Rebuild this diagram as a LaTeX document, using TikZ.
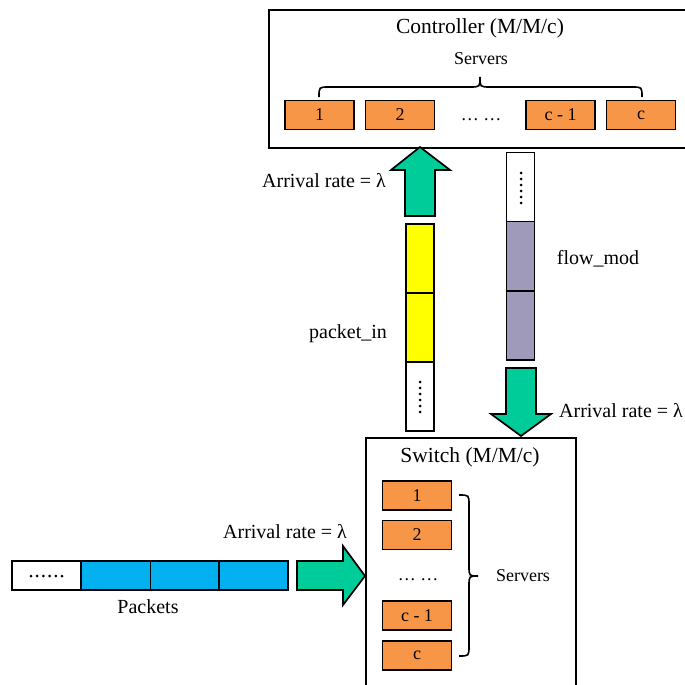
\documentclass[tikz,border=0pt]{standalone}
\usepackage{fontspec}
\setmainfont{Liberation Serif}
\definecolor{srv}{HTML}{F79646}
\definecolor{grn}{RGB}{0,204,153}
\definecolor{ylw}{RGB}{255,255,0}
\definecolor{pur}{RGB}{160,154,186}
\definecolor{blu}{RGB}{0,176,240}
\tikzset{
  frame/.style={draw, line width=1.8pt, inner sep=0pt, anchor=north west},
  srvbox/.style={draw, fill=srv, line width=1.8pt, minimum width=69pt, minimum height=29pt, inner sep=0pt, font=\fontsize{18}{18}\selectfont},
  cell/.style={draw, line width=1.7pt, inner sep=0pt},
  vcell/.style={cell, minimum width=28pt, minimum height=69pt},
  hcell/.style={cell, minimum width=69pt, minimum height=29pt},
  blockarrow/.style={draw, fill=grn, line width=1.7pt, line join=miter},
  lbl/.style={inner sep=0pt, font=\fontsize{20}{24}\selectfont, text height=14pt, text depth=4pt},
  ttl/.style={inner sep=0pt, font=\fontsize{21.5}{24}\selectfont, text height=15pt, text depth=4pt},
  small/.style={inner sep=0pt, font=\fontsize{18}{22}\selectfont, text height=13pt, text depth=3pt},
  brc/.style={line width=1.6pt},
  dot/.style={fill=black, draw=none}
}
\begin{document}
\begin{tikzpicture}[x=1pt,y=-1pt]
\useasboundingbox (0,0) rectangle (685,685);
\clip (0,0) rectangle (685,685);

% Controller
\node[frame, minimum width=440pt, minimum height=138pt] (ctrl) at (268,9) {};
\node[ttl] (ctrltitle) at (480,28) {Controller (M/M/c)};
\node[small] (ctrlsrv) at (481,59) {Servers};
\node[srvbox] (c1) at (319.5,115) {1};
\node[srvbox] (c2) at (400,115) {2};
\node[small] (cdots) at (481,115) {… …};
\node[srvbox] (cc1) at (560.5,115) {c - 1};
\node[srvbox] (cc) at (641,115) {c};
\draw[brc] (319,97) .. controls (319,87) .. (329,87) -- (470,87)
  .. controls (480,87) .. (480,77) .. controls (480,87) .. (490,87)
  -- (632,87) .. controls (642,87) .. (642,97);

% Switch
\node[frame, minimum width=210pt, minimum height=300pt] (sw) at (365,437) {};
\node[ttl] (swtitle) at (470,457) {Switch (M/M/c)};
\node[srvbox] (s1) at (417,495.5) {1};
\node[srvbox] (s2) at (417,535) {2};
\node[small] (sdots) at (418,575) {… …};
\node[srvbox] (sc1) at (417,615.5) {c - 1};
\node[srvbox] (sc) at (417,655.5) {c};
\draw[brc] (459,495) .. controls (469,495) .. (469,505) -- (469,566)
  .. controls (469,576) .. (478,576) .. controls (469,576) .. (469,586)
  -- (469,646) .. controls (469,656) .. (459,656);
\node[small] (swsrv) at (523,576) {Servers};

% packet_in column
\node[vcell, fill=ylw] (pin1) at (420,258.5) {};
\node[vcell, fill=ylw] (pin2) at (420,327.5) {};
\node[vcell, fill=white] (pin3) at (420,396.5) {};
\foreach \k in {0,...,5} \fill[dot] (420,382+6*\k) circle (1.5pt);
\node[lbl] (pinlbl) at (348,333) {packet\_in};

% flow_mod column
\node[vcell, fill=white] (fm3) at (520.5,187) {};
\node[vcell, fill=pur] (fm2) at (520.5,256) {};
\node[vcell, fill=pur] (fm1) at (520.5,325.5) {};
\foreach \k in {0,...,5} \fill[dot] (521,173+6*\k) circle (1.5pt);
\node[lbl] (fmlbl) at (598,259) {flow\_mod};

% arrows
\draw[blockarrow] (405,216) -- (405,170) -- (391,170) -- (420,147) -- (450,170) -- (435,170) -- (435,216) -- cycle;
\node[lbl] (uplbl) at (324,182) {Arrival rate = λ};
\draw[blockarrow] (506,368) -- (536,368) -- (536,414) -- (551,414) -- (521,436) -- (491,414) -- (506,414) -- cycle;
\node[lbl] (downlbl) at (621,412) {Arrival rate = λ};
\draw[blockarrow] (297,561) -- (343,561) -- (343,546) -- (365,576) -- (343,605) -- (343,590) -- (297,590) -- cycle;
\node[lbl] (inlbl) at (285,533) {Arrival rate = λ};

% packets
\node[hcell, fill=white] (p0) at (46.5,575.5) {};
\node[hcell, fill=blu] (p1) at (116,575.5) {};
\node[hcell, fill=blu] (p2) at (185,575.5) {};
\node[hcell, fill=blu] (p3) at (253.5,575.5) {};
\foreach \k in {0,...,5} \fill[dot] (31+6.2*\k,576) circle (1.5pt);
\node[lbl] (pktlbl) at (148,608) {Packets};
\end{tikzpicture}
\end{document}
